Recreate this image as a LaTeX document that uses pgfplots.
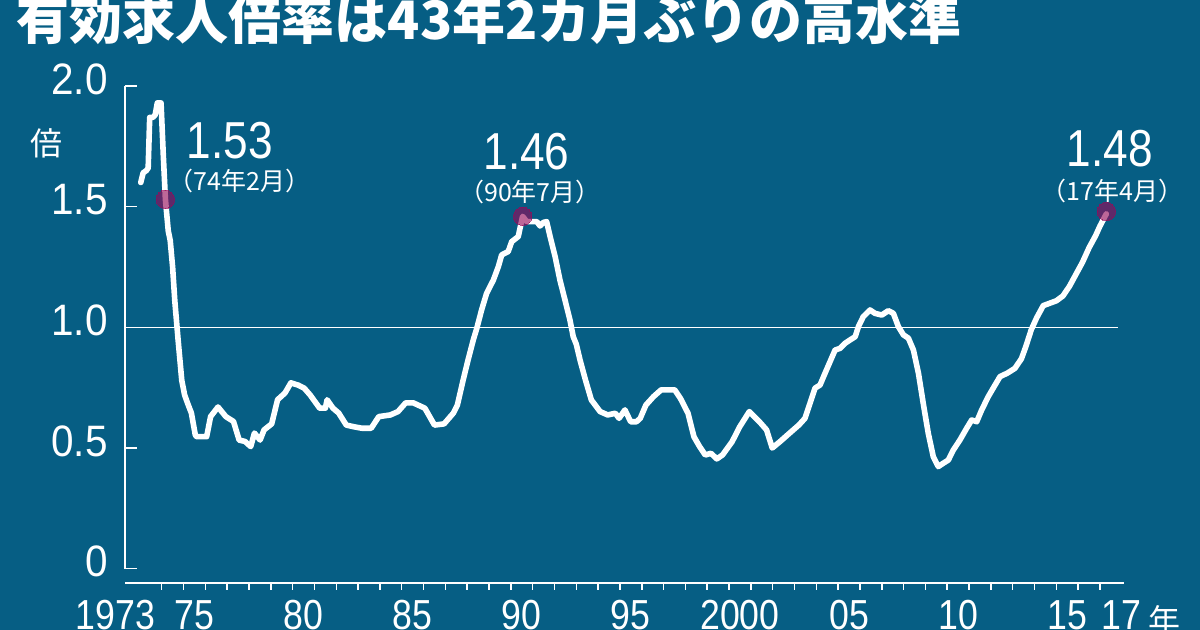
\documentclass[border=0pt]{standalone}
\usepackage{fontspec}
\usepackage{pgfplots}
\pgfplotsset{compat=1.18}
\setmainfont{Liberation Sans}
\newfontfamily\numfont[FakeStretch=0.85]{Liberation Sans}
\newfontfamily\numfontw[FakeStretch=0.92]{Liberation Sans}
\newfontfamily\jp{Noto Sans CJK JP}
\definecolor{bg}{RGB}{6,94,132}
\definecolor{dotc}{RGB}{150,10,90}
\begin{document}
\begin{tikzpicture}
\fill[bg] (0pt,0pt) rectangle (600pt,315pt);
\path[use as bounding box] (0pt,0pt) rectangle (600pt,315pt);
\node[anchor=base west, inner sep=0pt, text=white, font=\jp\bfseries\fontsize{26.5}{26.5}\selectfont] at (8.2pt,295.3pt) {有効求人倍率は43年2カ月ぶりの高水準};
\begin{axis}[
  at={(62.5pt,23.5pt)}, anchor=south west, scale only axis,
  width=499.5pt, height=248.5pt,
  xmin=1972.318, xmax=2018.10, ymin=-0.0593, ymax=2.0,
  axis line style={draw=none},
  xtick pos=bottom, ytick pos=left,
  xtick={1975.5,1980.5,1985.5,1990.5,1995.5,2000.5,2005.5,2010.5,2015.5,2017.97},
  xticklabels={75,80,85,90,95,2000,05,10,15,17},
  minor xtick={1974,1975,...,2017},
  ytick={0,0.5,1,1.5,2}, yticklabels={0,0.5,1.0,1.5,2.0},
  major tick length=0pt, minor tick length=3.5pt, tick align=outside,
  minor tick style={white, line width=0.75pt},
  major tick style={draw=none},
  ticklabel style={text=white, inner sep=0pt},
  xticklabel style={anchor=base, yshift=-23.5pt, font=\numfont\fontsize{21}{21}\selectfont},
  yticklabel style={anchor=east, xshift=-8.5pt, yshift=3.5pt, font=\numfontw\fontsize{22}{22}\selectfont},
  clip=false,
]
\draw[white, line width=1pt] (rel axis cs:0,0) -- (rel axis cs:1,0);
\draw[white, line width=0.8pt] (axis cs:1972.318,0) -- (axis cs:1972.318,2);
\draw[white, line width=0.8pt] (axis cs:1972.318,0) -- (axis cs:1972.87,0);
\draw[white, line width=0.8pt] (axis cs:1972.318,0.5) -- (axis cs:1972.87,0.5);
\draw[white, line width=0.8pt] (axis cs:1972.318,1) -- (axis cs:1972.87,1);
\draw[white, line width=0.8pt] (axis cs:1972.318,1.5) -- (axis cs:1972.87,1.5);
\draw[white, line width=0.8pt] (axis cs:1972.318,2) -- (axis cs:1972.87,2);
\draw[white, line width=0.8pt] (axis cs:1972.318,1) -- (axis cs:2017.83,1);
\addplot[white, line width=2.8pt, line join=round, line cap=round] coordinates {
(1973.04,1.60)(1973.15,1.64)(1973.30,1.65)(1973.38,1.66)(1973.45,1.87)(1973.60,1.87)(1973.70,1.88)
(1973.80,1.93)(1973.97,1.93)(1974.07,1.72)(1974.17,1.53)(1974.30,1.40)(1974.39,1.36)(1974.50,1.25)
(1974.60,1.11)(1974.75,0.95)(1974.92,0.78)(1975.05,0.72)(1975.18,0.687)(1975.36,0.645)(1975.54,0.554)
(1975.60,0.547)(1976.06,0.547)(1976.24,0.63)(1976.58,0.67)(1976.94,0.63)(1977.29,0.61)(1977.55,0.533)
(1977.82,0.527)(1978.08,0.506)(1978.25,0.562)(1978.51,0.533)(1978.69,0.575)(1979.04,0.60)(1979.31,0.70)
(1979.65,0.728)(1979.92,0.77)(1980.27,0.76)(1980.53,0.748)(1980.80,0.72)(1981.24,0.665)(1981.50,0.665)
(1981.58,0.70)(1981.85,0.665)(1982.11,0.645)(1982.46,0.595)(1982.81,0.588)(1983.17,0.582)(1983.60,0.582)
(1983.95,0.63)(1984.48,0.637)(1984.83,0.651)(1985.18,0.687)(1985.53,0.687)(1986.06,0.665)(1986.50,0.595)
(1986.94,0.60)(1987.37,0.645)(1987.55,0.678)(1987.81,0.78)(1988.04,0.865)(1988.28,0.948)(1988.44,0.996)
(1988.66,1.072)(1988.89,1.141)(1989.20,1.196)(1989.43,1.252)(1989.58,1.30)(1989.88,1.314)(1990.04,1.355)
(1990.34,1.376)(1990.42,1.41)(1990.54,1.46)(1990.73,1.438)(1991.19,1.438)(1991.34,1.42)(1991.50,1.435)
(1991.64,1.438)(1991.80,1.376)(1992.03,1.293)(1992.25,1.196)(1992.48,1.114)(1992.71,1.03)(1992.86,0.961)
(1993.00,0.93)(1993.17,0.865)(1993.42,0.782)(1993.69,0.699)(1994.09,0.651)(1994.44,0.637)(1994.79,0.644)
(1994.96,0.623)(1995.23,0.658)(1995.49,0.609)(1995.76,0.609)(1995.93,0.623)(1996.19,0.678)(1996.54,0.713)
(1996.89,0.741)(1997.51,0.741)(1997.77,0.706)(1998.12,0.644)(1998.39,0.547)(1998.65,0.506)(1998.91,0.471)
(1999.17,0.478)(1999.44,0.455)(1999.70,0.471)(2000.14,0.526)(2000.49,0.588)(2000.93,0.651)(2001.45,0.603)
(2001.72,0.575)(2001.98,0.50)(2002.33,0.526)(2002.68,0.554)(2003.21,0.596)(2003.48,0.623)(2003.71,0.685)
(2003.94,0.748)(2004.17,0.761)(2004.40,0.81)(2004.63,0.858)(2004.86,0.906)(2005.09,0.913)(2005.32,0.934)
(2005.55,0.948)(2005.78,0.961)(2005.93,1.003)(2006.15,1.044)(2006.46,1.072)(2006.69,1.058)(2007.00,1.051)
(2007.30,1.069)(2007.53,1.058)(2007.76,1.003)(2007.99,0.969)(2008.22,0.955)(2008.45,0.906)(2008.68,0.81)
(2008.90,0.685)(2009.13,0.561)(2009.36,0.464)(2009.59,0.423)(2009.82,0.437)(2010.05,0.45)(2010.28,0.492)
(2010.58,0.533)(2010.89,0.582)(2011.12,0.616)(2011.35,0.609)(2011.58,0.658)(2011.88,0.713)(2012.19,0.761)
(2012.42,0.796)(2012.75,0.81)(2013.10,0.83)(2013.40,0.87)(2013.60,0.92)(2013.85,0.99)(2014.10,1.04)
(2014.40,1.09)(2014.70,1.10)(2015.00,1.11)(2015.30,1.13)(2015.60,1.17)(2015.90,1.22)(2016.20,1.27)
(2016.50,1.33)(2016.80,1.38)(2017.00,1.42)(2017.29,1.47)
};
\addplot[only marks, mark=*, mark size=4.6pt, color=dotc, opacity=0.62, mark options={solid, fill=dotc, draw=dotc, line width=0pt}] coordinates {
(1974.17,1.53)(1990.54,1.46)(2017.29,1.48)
};
\end{axis}
\node[anchor=base, inner sep=0pt, text=white, font=\numfont\fontsize{21}{21}\selectfont] at (57.75pt,0pt) {1973};
\node[inner sep=0pt, text=white, font=\jp\fontsize{16}{16}\selectfont] at (582pt,5pt) {年};
\node[inner sep=0pt, text=white, font=\jp\fontsize{16}{16}\selectfont] at (23.5pt,243.5pt) {倍};
\node[inner sep=0pt, text=white, font=\numfont\fontsize{26}{26}\selectfont] at (115pt,244.5pt) {1.53};
\node[inner sep=0pt, text=white, font=\jp\fontsize{12.5}{12.5}\selectfont] at (119.75pt,224.25pt) {（74年2月）};
\node[inner sep=0pt, text=white, font=\numfont\fontsize{26}{26}\selectfont] at (263.25pt,239.25pt) {1.46};
\node[inner sep=0pt, text=white, font=\jp\fontsize{12.5}{12.5}\selectfont] at (265pt,218.75pt) {（90年7月）};
\node[inner sep=0pt, text=white, font=\numfont\fontsize{26}{26}\selectfont] at (555pt,240.5pt) {1.48};
\node[inner sep=0pt, text=white, font=\jp\fontsize{12.5}{12.5}\selectfont] at (556.25pt,219.5pt) {（17年4月）};
\end{tikzpicture}
\end{document}
